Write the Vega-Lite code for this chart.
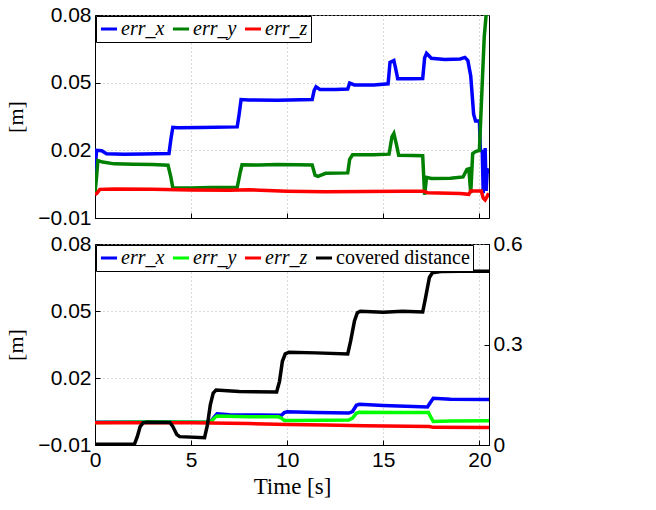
{
  "$schema": "https://vega.github.io/schema/vega-lite/v6.json",
  "background": "white",
  "padding": {"left": 4, "top": 3, "right": 5, "bottom": 5},
  "bounds": "flush",
  "config": {
    "view": {"stroke": "black", "strokeWidth": 1},
    "axis": {
      "labelFont": "Liberation Sans", "labelFontSize": 21, "labelColor": "black",
      "domainColor": "black", "tickColor": "black", "ticks": true, "tickSize": -5,
      "gridColor": "#b4b4b4", "gridDash": [1, 3], "gridWidth": 1,
      "titleFont": "Liberation Serif", "titleFontWeight": "normal", "titleFontSize": 22, "titleColor": "black",
      "labelFlush": false, "labelOverlap": false, "labelPadding": 9
    },
    "legend": {
      "orient": "top-left", "direction": "horizontal", "offset": 1, "title": null,
      "strokeColor": "black", "fillColor": "white", "padding": 3,
      "labelFont": "Liberation Serif", "labelFontSize": 20, "labelColor": "black",
      "symbolType": "stroke", "symbolStrokeWidth": 3, "symbolSize": 260,
      "columnPadding": 1, "labelOffset": 2, "cornerRadius": 0
    }
  },
  "datasets": {
    "top": [
      {"s":"err_x","t":0.0,"v":0.010},{"s":"err_x","t":0.08,"v":0.0200},{"s":"err_x","t":0.35,"v":0.0198},{"s":"err_x","t":0.6,"v":0.0185},{"s":"err_x","t":1.5,"v":0.0183},{"s":"err_x","t":2.5,"v":0.0184},{"s":"err_x","t":3.85,"v":0.0186},{"s":"err_x","t":3.95,"v":0.025},{"s":"err_x","t":4.05,"v":0.0302},{"s":"err_x","t":4.3,"v":0.0300},{"s":"err_x","t":5.5,"v":0.0301},{"s":"err_x","t":7.4,"v":0.0304},{"s":"err_x","t":7.5,"v":0.036},{"s":"err_x","t":7.6,"v":0.0425},{"s":"err_x","t":8.0,"v":0.0423},{"s":"err_x","t":9.5,"v":0.0422},{"s":"err_x","t":11.3,"v":0.0425},{"s":"err_x","t":11.4,"v":0.0465},{"s":"err_x","t":11.5,"v":0.0482},{"s":"err_x","t":11.7,"v":0.0470},{"s":"err_x","t":12.5,"v":0.0470},{"s":"err_x","t":13.15,"v":0.0472},{"s":"err_x","t":13.25,"v":0.0498},{"s":"err_x","t":13.5,"v":0.0490},{"s":"err_x","t":14.5,"v":0.0490},{"s":"err_x","t":15.25,"v":0.0495},{"s":"err_x","t":15.35,"v":0.0590},{"s":"err_x","t":15.55,"v":0.0598},{"s":"err_x","t":15.65,"v":0.0560},{"s":"err_x","t":15.75,"v":0.0517},{"s":"err_x","t":16.5,"v":0.0517},{"s":"err_x","t":17.05,"v":0.0518},{"s":"err_x","t":17.15,"v":0.0610},{"s":"err_x","t":17.25,"v":0.0630},{"s":"err_x","t":17.5,"v":0.0608},{"s":"err_x","t":18.2,"v":0.0603},{"s":"err_x","t":19.0,"v":0.0605},{"s":"err_x","t":19.25,"v":0.0612},{"s":"err_x","t":19.4,"v":0.0598},{"s":"err_x","t":19.55,"v":0.0530},{"s":"err_x","t":19.7,"v":0.0360},{"s":"err_x","t":19.8,"v":0.0330},{"s":"err_x","t":20.0,"v":0.0330},{"s":"err_x","t":20.05,"v":0.020},{"s":"err_x","t":20.15,"v":0.0195},{"s":"err_x","t":20.2,"v":0.0010},{"s":"err_x","t":20.25,"v":0.012},{"s":"err_x","t":20.3,"v":0.0210},{"s":"err_x","t":20.35,"v":0.002},{"s":"err_x","t":20.4,"v":0.010},{"s":"err_x","t":20.48,"v":0.012},
      {"s":"err_y","t":0.0,"v":0.0010},{"s":"err_y","t":0.08,"v":0.0080},{"s":"err_y","t":0.15,"v":0.0155},{"s":"err_y","t":0.4,"v":0.0148},{"s":"err_y","t":1.0,"v":0.0140},{"s":"err_y","t":2.0,"v":0.0138},{"s":"err_y","t":3.0,"v":0.0137},{"s":"err_y","t":3.8,"v":0.0134},{"s":"err_y","t":3.95,"v":0.008},{"s":"err_y","t":4.05,"v":0.0033},{"s":"err_y","t":5.0,"v":0.0033},{"s":"err_y","t":6.0,"v":0.0035},{"s":"err_y","t":7.4,"v":0.0036},{"s":"err_y","t":7.55,"v":0.010},{"s":"err_y","t":7.65,"v":0.0136},{"s":"err_y","t":8.5,"v":0.0135},{"s":"err_y","t":9.5,"v":0.0137},{"s":"err_y","t":10.5,"v":0.0136},{"s":"err_y","t":11.3,"v":0.0135},{"s":"err_y","t":11.45,"v":0.0090},{"s":"err_y","t":11.6,"v":0.0085},{"s":"err_y","t":12.0,"v":0.0098},{"s":"err_y","t":13.15,"v":0.0100},{"s":"err_y","t":13.25,"v":0.016},{"s":"err_y","t":13.4,"v":0.0180},{"s":"err_y","t":14.5,"v":0.0180},{"s":"err_y","t":15.3,"v":0.0183},{"s":"err_y","t":15.45,"v":0.026},{"s":"err_y","t":15.55,"v":0.0275},{"s":"err_y","t":15.7,"v":0.022},{"s":"err_y","t":15.8,"v":0.0178},{"s":"err_y","t":16.5,"v":0.0177},{"s":"err_y","t":17.05,"v":0.0176},{"s":"err_y","t":17.15,"v":0.0003},{"s":"err_y","t":17.25,"v":0.0080},{"s":"err_y","t":17.5,"v":0.0075},{"s":"err_y","t":18.5,"v":0.0076},{"s":"err_y","t":19.15,"v":0.0082},{"s":"err_y","t":19.35,"v":0.0115},{"s":"err_y","t":19.45,"v":0.0118},{"s":"err_y","t":19.55,"v":0.0010},{"s":"err_y","t":19.65,"v":0.0185},{"s":"err_y","t":19.8,"v":0.0195},{"s":"err_y","t":20.0,"v":0.0200},{"s":"err_y","t":20.1,"v":0.040},{"s":"err_y","t":20.25,"v":0.070},{"s":"err_y","t":20.35,"v":0.080},{"s":"err_y","t":20.45,"v":0.095},
      {"s":"err_z","t":0.0,"v":0.0003},{"s":"err_z","t":0.1,"v":0.0010},{"s":"err_z","t":0.25,"v":0.0027},{"s":"err_z","t":1.0,"v":0.0029},{"s":"err_z","t":3.0,"v":0.0027},{"s":"err_z","t":5.0,"v":0.0024},{"s":"err_z","t":7.0,"v":0.0023},{"s":"err_z","t":8.0,"v":0.0025},{"s":"err_z","t":10.0,"v":0.0019},{"s":"err_z","t":12.0,"v":0.0016},{"s":"err_z","t":14.0,"v":0.0018},{"s":"err_z","t":16.0,"v":0.0019},{"s":"err_z","t":17.1,"v":0.0019},{"s":"err_z","t":17.3,"v":0.0012},{"s":"err_z","t":19.0,"v":0.0009},{"s":"err_z","t":19.45,"v":0.0005},{"s":"err_z","t":19.55,"v":0.0020},{"s":"err_z","t":20.1,"v":0.0020},{"s":"err_z","t":20.2,"v":-0.0012},{"s":"err_z","t":20.3,"v":-0.0020},{"s":"err_z","t":20.4,"v":-0.0005},{"s":"err_z","t":20.48,"v":0.0010}
    ],
    "bottom": [
      {"s":"err_x","t":0.0,"v":0.0002},{"s":"err_x","t":3.0,"v":0.0003},{"s":"err_x","t":5.5,"v":0.0002},{"s":"err_x","t":6.0,"v":0.0003},{"s":"err_x","t":6.2,"v":0.0025},{"s":"err_x","t":6.35,"v":0.0040},{"s":"err_x","t":7.0,"v":0.0036},{"s":"err_x","t":8.5,"v":0.0034},{"s":"err_x","t":9.7,"v":0.0033},{"s":"err_x","t":9.85,"v":0.0045},{"s":"err_x","t":10.0,"v":0.0049},{"s":"err_x","t":11.5,"v":0.0045},{"s":"err_x","t":13.2,"v":0.0043},{"s":"err_x","t":13.4,"v":0.0050},{"s":"err_x","t":13.6,"v":0.0078},{"s":"err_x","t":13.75,"v":0.0082},{"s":"err_x","t":15.0,"v":0.0077},{"s":"err_x","t":17.3,"v":0.0070},{"s":"err_x","t":17.45,"v":0.0090},{"s":"err_x","t":17.6,"v":0.0109},{"s":"err_x","t":18.5,"v":0.0105},{"s":"err_x","t":20.5,"v":0.0104},
      {"s":"err_y","t":0.0,"v":0.0001},{"s":"err_y","t":3.0,"v":0.0003},{"s":"err_y","t":6.0,"v":0.0002},{"s":"err_y","t":6.2,"v":0.0020},{"s":"err_y","t":6.35,"v":0.0030},{"s":"err_y","t":8.0,"v":0.0027},{"s":"err_y","t":9.55,"v":0.0026},{"s":"err_y","t":9.7,"v":0.0020},{"s":"err_y","t":9.85,"v":0.0010},{"s":"err_y","t":10.5,"v":0.0010},{"s":"err_y","t":13.2,"v":0.0012},{"s":"err_y","t":13.4,"v":0.0020},{"s":"err_y","t":13.6,"v":0.0042},{"s":"err_y","t":13.75,"v":0.0047},{"s":"err_y","t":15.5,"v":0.0046},{"s":"err_y","t":17.35,"v":0.0046},{"s":"err_y","t":17.5,"v":0.0020},{"s":"err_y","t":17.6,"v":0.0005},{"s":"err_y","t":18.5,"v":0.0008},{"s":"err_y","t":20.5,"v":0.0009},
      {"s":"err_z","t":0.0,"v":0.0000},{"s":"err_z","t":5.0,"v":0.0000},{"s":"err_z","t":6.0,"v":-0.0001},{"s":"err_z","t":8.0,"v":-0.0004},{"s":"err_z","t":10.0,"v":-0.0008},{"s":"err_z","t":12.0,"v":-0.0011},{"s":"err_z","t":14.0,"v":-0.0014},{"s":"err_z","t":17.4,"v":-0.0017},{"s":"err_z","t":17.6,"v":-0.0021},{"s":"err_z","t":20.5,"v":-0.0022}
    ],
    "dist": [
      {"s":"covered distance","t":0.0,"d":0.002},{"s":"covered distance","t":2.05,"d":0.002},{"s":"covered distance","t":2.2,"d":0.025},{"s":"covered distance","t":2.35,"d":0.055},{"s":"covered distance","t":2.5,"d":0.066},{"s":"covered distance","t":2.7,"d":0.068},{"s":"covered distance","t":3.9,"d":0.067},{"s":"covered distance","t":4.05,"d":0.055},{"s":"covered distance","t":4.25,"d":0.032},{"s":"covered distance","t":4.4,"d":0.025},{"s":"covered distance","t":5.7,"d":0.022},{"s":"covered distance","t":5.85,"d":0.06},{"s":"covered distance","t":6.0,"d":0.12},{"s":"covered distance","t":6.15,"d":0.155},{"s":"covered distance","t":6.3,"d":0.164},{"s":"covered distance","t":7.5,"d":0.160},{"s":"covered distance","t":9.45,"d":0.158},{"s":"covered distance","t":9.6,"d":0.19},{"s":"covered distance","t":9.75,"d":0.25},{"s":"covered distance","t":9.9,"d":0.272},{"s":"covered distance","t":10.1,"d":0.277},{"s":"covered distance","t":11.5,"d":0.275},{"s":"covered distance","t":13.15,"d":0.272},{"s":"covered distance","t":13.3,"d":0.31},{"s":"covered distance","t":13.5,"d":0.37},{"s":"covered distance","t":13.65,"d":0.395},{"s":"covered distance","t":13.8,"d":0.399},{"s":"covered distance","t":15.0,"d":0.396},{"s":"covered distance","t":16.0,"d":0.399},{"s":"covered distance","t":17.05,"d":0.397},{"s":"covered distance","t":17.2,"d":0.44},{"s":"covered distance","t":17.4,"d":0.50},{"s":"covered distance","t":17.55,"d":0.514},{"s":"covered distance","t":18.0,"d":0.518},{"s":"covered distance","t":19.0,"d":0.519},{"s":"covered distance","t":20.5,"d":0.519}
    ]
  },
  "spacing": 26,
  "resolve": {"scale": {"color": "independent"}, "legend": {"color": "independent"}},
  "vconcat": [
    {
      "width": 394, "height": 203,
      "data": {"name": "top"},
      "mark": {"type": "line", "strokeWidth": 3.5, "clip": true},
      "encoding": {
        "x": {"field": "t", "type": "quantitative", "scale": {"domain": [0, 20.5], "nice": false, "zero": false},
              "axis": {"values": [0, 5, 10, 15, 20], "labels": false, "title": null, "grid": true}},
        "y": {"field": "v", "type": "quantitative", "scale": {"domain": [-0.01, 0.08], "nice": false, "zero": false},
              "axis": {"values": [-0.01, 0.02, 0.05, 0.08], "format": ".2f", "title": "[m]", "titlePadding": 10, "grid": true}},
        "color": {"field": "s", "type": "nominal",
                  "scale": {"domain": ["err_x", "err_y", "err_z"], "range": ["#0000ff", "#008000", "#ff0000"]},
                  "legend": {"labelFontStyle": "italic"}}
      }
    },
    {
      "width": 394, "height": 201,
      "resolve": {"scale": {"y": "independent"}},
      "layer": [
        {
          "data": {"name": "bottom"},
          "mark": {"type": "line", "strokeWidth": 3.5, "clip": true},
          "encoding": {
            "x": {"field": "t", "type": "quantitative", "scale": {"domain": [0, 20.5], "nice": false, "zero": false},
                  "axis": {"values": [0, 5, 10, 15, 20], "format": "d", "title": "Time [s]", "grid": true, "titleFontSize": 23, "titlePadding": 5}},
            "y": {"field": "v", "type": "quantitative", "scale": {"domain": [-0.01, 0.08], "nice": false, "zero": false},
                  "axis": {"values": [-0.01, 0.02, 0.05, 0.08], "format": ".2f", "title": "[m]", "titlePadding": 10, "grid": true}},
            "color": {"field": "s", "type": "nominal",
                      "scale": {"domain": ["err_x", "err_y", "err_z", "covered distance"], "range": ["#0000ff", "#00ff00", "#ff0000", "#000000"]},
                      "legend": {"labelFontStyle": {"expr": "datum.label == 'covered distance' ? 'normal' : 'italic'"}}}
          }
        },
        {
          "data": {"name": "dist"},
          "mark": {"type": "line", "strokeWidth": 3.5, "clip": true},
          "encoding": {
            "x": {"field": "t", "type": "quantitative"},
            "y": {"field": "d", "type": "quantitative", "scale": {"domain": [0, 0.6], "nice": false, "zero": false},
                  "axis": {"orient": "right", "values": [0, 0.3, 0.6], "format": ".1~f", "title": null, "grid": false}},
            "color": {"field": "s", "type": "nominal"}
          }
        }
      ]
    }
  ]
}
